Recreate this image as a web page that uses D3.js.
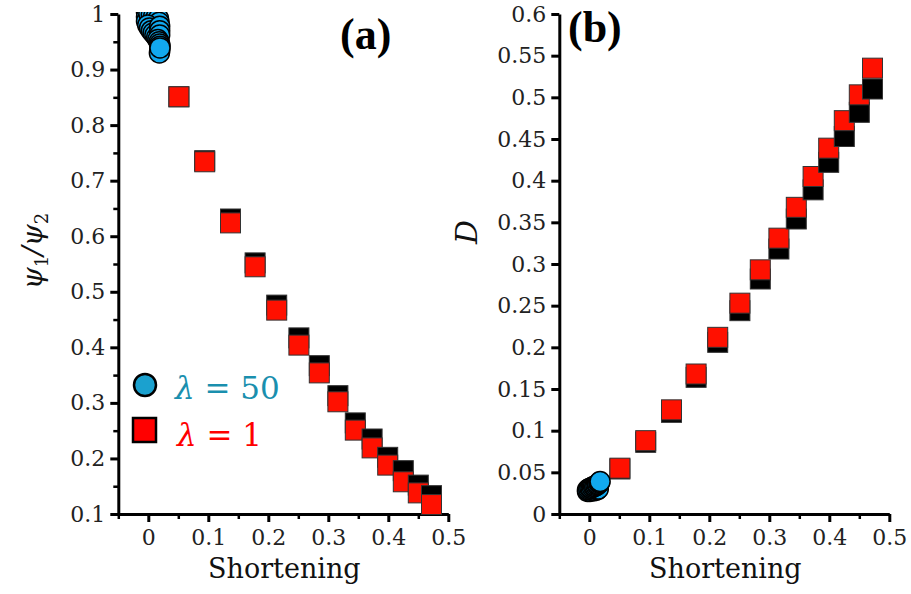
<!DOCTYPE html>
<html>
<head>
<meta charset="utf-8">
<script src="https://cdn.jsdelivr.net/npm/d3@7"></script>
<style>
  body { margin: 0; background: #fff; }
  .tick text { font-family: "DejaVu Serif", serif; }
</style>
</head>
<body>
<div id="chart"></div>
<script>
// shortening values shared by both panels (lambda = 1 runs)
var shortening = [0.051, 0.094, 0.137, 0.178, 0.214, 0.251, 0.285, 0.316, 0.345, 0.373, 0.399, 0.425, 0.450, 0.472];
var psiRatioLam1 = [0.851, 0.734, 0.624, 0.545, 0.467, 0.404, 0.354, 0.302, 0.251, 0.219, 0.188, 0.158, 0.138, 0.117];
var psiRatioBack = [0.851, 0.736, 0.631, 0.552, 0.476, 0.417, 0.367, 0.313, 0.264, 0.235, 0.202, 0.178, 0.152, 0.133];
var dLam1 = [0.055, 0.088, 0.125, 0.168, 0.212, 0.253, 0.293, 0.331, 0.368, 0.405, 0.439, 0.472, 0.503, 0.535];
var dBack = [0.054, 0.086, 0.122, 0.164, 0.206, 0.244, 0.282, 0.318, 0.354, 0.389, 0.422, 0.453, 0.482, 0.510];

// lambda = 50 runs, cluster near zero shortening
var lam50ShortA = [-0.003, -0.003, -0.003, 0.001, 0.005, 0.009, 0.013, 0.017, 0.018, -0.001, 0.002, 0.005, 0.008, 0.011, 0.014, 0.019, 0.019, 0.019, 0.016, 0.018, 0.019, 0.019, 0.0185, 0.0195, 0.0195];
var lam50Psi = [1.003, 0.995, 0.987, 1.000, 0.998, 0.996, 0.994, 0.992, 0.985, 0.980, 0.975, 0.970, 0.966, 0.962, 0.958, 0.978, 0.970, 0.962, 0.954, 0.950, 0.946, 0.934, 0.930, 0.942, 0.939];
var lam50ShortB = [-0.003, 0.001, 0.005, 0.009, 0.013, 0.015, -0.003, -0.001, 0.001, 0.003, 0.005, 0.007, 0.009, 0.011, 0.013, 0.014, 0.016, 0.017, 0.018];
var lam50D = [0.027, 0.027, 0.028, 0.028, 0.029, 0.030, 0.029, 0.030, 0.031, 0.031, 0.032, 0.033, 0.033, 0.034, 0.035, 0.036, 0.037, 0.038, 0.039];

var xTicks = [0, 0.1, 0.2, 0.3, 0.4, 0.5];
var xTickLabels = ["0", "0.1", "0.2", "0.3", "0.4", "0.5"];
var xMinor = [-0.05, 0.05, 0.15, 0.25, 0.35, 0.45];
var yTicksA = [0.1, 0.2, 0.3, 0.4, 0.5, 0.6, 0.7, 0.8, 0.9, 1];
var yTickLabelsA = ["0.1", "0.2", "0.3", "0.4", "0.5", "0.6", "0.7", "0.8", "0.9", "1"];
var yMinorA = [0.15, 0.25, 0.35, 0.45, 0.55, 0.65, 0.75, 0.85, 0.95];
var yTicksB = [0, 0.05, 0.1, 0.15, 0.2, 0.25, 0.3, 0.35, 0.4, 0.45, 0.5, 0.55, 0.6];
var yTickLabelsB = ["0", "0.05", "0.1", "0.15", "0.2", "0.25", "0.3", "0.35", "0.4", "0.45", "0.5", "0.55", "0.6"];

var redFill = "#ff1000", blueFill = "#12a9ef", tealText = "#1a8fae";
var top_ = 14, bottom_ = 514;

var svg = d3.select("#chart").append("svg")
    .attr("width", 911)
    .attr("height", 594)
    .style("background", "#fff");

svg.append("defs").append("clipPath").attr("id", "clipA")
    .append("rect").attr("x", 0).attr("y", 12).attr("width", 911).attr("height", 582);

function drawAxes(g, x, y, yTicks, yLabels, yMinor) {
    var ax = g.append("g").attr("transform", "translate(0," + bottom_ + ")")
        .call(d3.axisBottom(x).tickValues(xTicks).tickSize(8).tickSizeOuter(0).tickPadding(7)
            .tickFormat(function (d, i) { return xTickLabels[i]; }));
    ax.select(".domain").attr("stroke-width", 3);
    ax.selectAll(".tick line").attr("stroke-width", 3);
    ax.selectAll(".tick text").attr("font-size", 22).attr("fill", "#222");
    var axm = g.append("g").attr("transform", "translate(0," + bottom_ + ")")
        .call(d3.axisBottom(x).tickValues(xMinor).tickSize(5).tickFormat(""));
    axm.select(".domain").remove();
    axm.selectAll(".tick line").attr("stroke-width", 2.5);

    var xl = x.range()[0];
    var ay = g.append("g").attr("transform", "translate(" + xl + ",0)")
        .call(d3.axisLeft(y).tickValues(yTicks).tickSize(8).tickSizeOuter(0).tickPadding(5)
            .tickFormat(function (d, i) { return yLabels[i]; }));
    ay.select(".domain").attr("stroke-width", 3);
    ay.selectAll(".tick line").attr("stroke-width", 3);
    ay.selectAll(".tick text").attr("font-size", 22).attr("fill", "#222");
    if (yMinor) {
        var aym = g.append("g").attr("transform", "translate(" + xl + ",0)")
            .call(d3.axisLeft(y).tickValues(yMinor).tickSize(5).tickFormat(""));
        aym.select(".domain").remove();
        aym.selectAll(".tick line").attr("stroke-width", 2.5);
    }
    g.append("text")
        .attr("x", (x.range()[0] + x.range()[1]) / 2 + 1)
        .attr("y", 578)
        .attr("text-anchor", "middle")
        .attr("font-family", "DejaVu Serif, serif")
        .attr("font-size", 27)
        .attr("fill", "#111")
        .text("Shortening");
}

function drawMarks(g, x, y, xs, frontY, backY, bx, by) {
    // per point: black square behind, red square in front
    var sq = 20;
    xs.forEach(function (s, i) {
        g.append("rect")
            .attr("x", x(s) - sq / 2).attr("y", y(backY[i]) - sq / 2)
            .attr("width", sq).attr("height", sq)
            .attr("fill", "#000").attr("stroke", "#333").attr("stroke-width", 1);
        g.append("rect")
            .attr("x", x(s) - sq / 2).attr("y", y(frontY[i]) - sq / 2)
            .attr("width", sq).attr("height", sq)
            .attr("fill", redFill).attr("stroke", "#333").attr("stroke-width", 1);
    });
    g.selectAll("circle.l50")
        .data(bx)
        .join("circle")
        .attr("class", "l50")
        .attr("cx", function (d) { return x(d); })
        .attr("cy", function (d, i) { return y(by[i]); })
        .attr("r", 10)
        .attr("fill", blueFill)
        .attr("stroke", "#000")
        .attr("stroke-width", 1.5);
}

// ---- panel (a)
var xA = d3.scaleLinear().domain([-0.05, 0.5]).range([118.3, 448.3]);
var yA = d3.scaleLinear().domain([0.1, 1]).range([bottom_, top_]);
var gA = svg.append("g");
drawAxes(gA, xA, yA, yTicksA, yTickLabelsA, yMinorA);
drawMarks(gA.append("g").attr("clip-path", "url(#clipA)"), xA, yA, shortening, psiRatioLam1, psiRatioBack, lam50ShortA, lam50Psi);

var ylabA = gA.append("text")
    .attr("transform", "translate(42,251) rotate(-90)")
    .attr("text-anchor", "middle")
    .attr("font-family", "DejaVu Serif, serif")
    .attr("font-style", "italic")
    .attr("font-size", 28)
    .attr("fill", "#111");
ylabA.append("tspan").text("ψ");
ylabA.append("tspan").attr("font-size", 18).attr("font-style", "normal").attr("dy", 6).text("1");
ylabA.append("tspan").attr("dy", -6).text("/ψ");
ylabA.append("tspan").attr("font-size", 18).attr("font-style", "normal").attr("dy", 6).text("2");

gA.append("text")
    .attr("x", 340).attr("y", 49)
    .attr("font-family", "Liberation Serif, serif")
    .attr("font-weight", "bold")
    .attr("font-size", 44)
    .text("(a)");

// legend
gA.append("circle").attr("cx", 145).attr("cy", 385).attr("r", 11)
    .attr("fill", "#1ba1cf").attr("stroke", "#000").attr("stroke-width", 2.5);
gA.append("rect").attr("x", 133).attr("y", 418).attr("width", 23).attr("height", 24)
    .attr("fill", "#ff0000").attr("stroke", "#000").attr("stroke-width", 2.5);
var leg1 = gA.append("text").attr("x", 175).attr("y", 399)
    .attr("font-family", "DejaVu Serif, serif").attr("font-size", 31).attr("fill", tealText);
leg1.append("tspan").attr("font-style", "italic").text("λ");
leg1.append("tspan").text(" = 50");
var leg2 = gA.append("text").attr("x", 177).attr("y", 446)
    .attr("font-family", "DejaVu Serif, serif").attr("font-size", 31).attr("fill", "#ff0000");
leg2.append("tspan").attr("font-style", "italic").text("λ");
leg2.append("tspan").text(" = 1");

// ---- panel (b)
var xB = d3.scaleLinear().domain([-0.05, 0.5]).range([559.3, 889.3]);
var yB = d3.scaleLinear().domain([0, 0.6]).range([bottom_, top_]);
var gB = svg.append("g");
drawAxes(gB, xB, yB, yTicksB, yTickLabelsB, null);
drawMarks(gB.append("g"), xB, yB, shortening, dLam1, dBack, lam50ShortB, lam50D);

gB.append("text")
    .attr("transform", "translate(477,232) rotate(-90)")
    .attr("text-anchor", "middle")
    .attr("font-family", "DejaVu Serif, serif")
    .attr("font-style", "italic")
    .attr("font-size", 30)
    .attr("fill", "#111")
    .text("D");

gB.append("text")
    .attr("x", 568).attr("y", 42)
    .attr("font-family", "Liberation Serif, serif")
    .attr("font-weight", "bold")
    .attr("font-size", 44)
    .text("(b)");
</script>
</body>
</html>
